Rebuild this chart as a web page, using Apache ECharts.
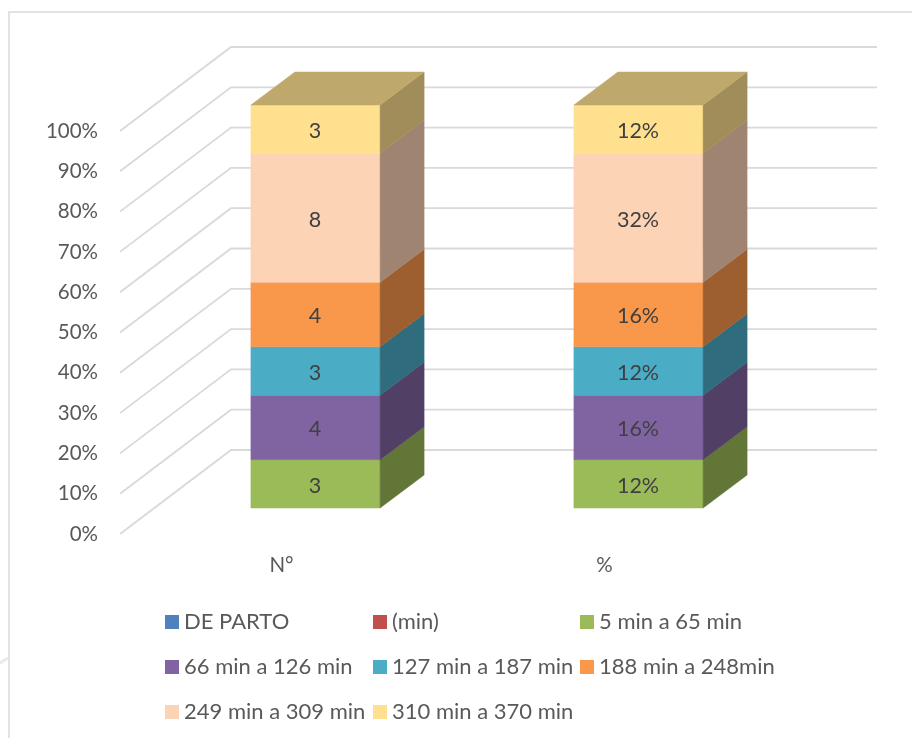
<!DOCTYPE html>
<html>
<head>
<meta charset="utf-8">
<title>Tiempo de parto</title>
<script src="https://cdn.jsdelivr.net/npm/echarts@6/dist/echarts.min.js"></script>
<style>
  html, body { margin: 0; padding: 0; background: #fff; }
  #chart { width: 912px; height: 738px; }
</style>
</head>
<body>
<div id="chart"></div>
<script>
// Column categories and percent axis ticks
const categories = ['N°', '%'];
const percentTicks = [0, 10, 20, 30, 40, 50, 60, 70, 80, 90, 100];

// Series names, bottom of the stack first
const seriesNames = ['DE PARTO', '(min)', '5 min a 65 min', '66 min a 126 min',
  '127 min a 187 min', '188 min a 248min', '249 min a 309 min', '310 min a 370 min'];

// Values per series: [count, percentage]
const deParto = [0, 0];
const minutos = [0, 0];
const min5a65 = [3, 12];
const min66a126 = [4, 16];
const min127a187 = [3, 12];
const min188a248 = [4, 16];
const min249a309 = [8, 32];
const min310a370 = [3, 12];
const seriesValues = [deParto, minutos, min5a65, min66a126, min127a187, min188a248, min249a309, min310a370];

const seriesColors = ['#4F81BD', '#C0504D', '#9BBB59', '#8064A2', '#4BACC6', '#F9974A', '#FCD3B4', '#FFE08F'];

// Pseudo-3D projection: offsets of the bar's front plane, its depth and the back wall
const BAR_FRONT = { x: 34, y: -26 };
const BAR_DEPTH = { x: 44, y: -33 };
const WALL = { x: 111, y: -84 };
const BAR_WIDTH_RATIO = 0.4;
const FONT = 'Lato, Carlito, "Open Sans", sans-serif';
const AXIS_FONT_SIZE = 20.5;
const VALUE_FONT_SIZE = 21.5;
const LEGEND_FONT_SIZE = 22;

const columnTotals = categories.map((_, c) => seriesValues.reduce((sum, s) => sum + s[c], 0));

function shade(hex, k) {
  const n = parseInt(hex.slice(1), 16);
  const ch = [n >> 16, (n >> 8) & 255, n & 255].map(v => Math.round(v * k));
  return `rgb(${ch[0]},${ch[1]},${ch[2]})`;
}

function solid(points, fill) {
  return {
    type: 'polygon',
    shape: { points },
    style: { fill, stroke: fill, lineWidth: 0.5 }
  };
}

// Draws one stacked segment: front face, side face, and the lid for the top series
function renderSegment(params, api) {
  const cat = api.value(0);
  const from = api.value(1);
  const to = api.value(2);
  const raw = api.value(3);
  if (to <= from) return { type: 'group', children: [] };

  const color = seriesColors[params.seriesIndex - 1];
  const width = api.size([1, 0])[0] * BAR_WIDTH_RATIO;
  const bottom = api.coord([cat, from]);
  const top = api.coord([cat, to]);
  const xl = bottom[0] + BAR_FRONT.x - width / 2;
  const xr = xl + width;
  const yb = bottom[1] + BAR_FRONT.y;
  const yt = top[1] + BAR_FRONT.y;

  const children = [
    solid([[xl, yb], [xr, yb], [xr, yt], [xl, yt]], color),
    solid([[xr, yb], [xr + BAR_DEPTH.x, yb + BAR_DEPTH.y], [xr + BAR_DEPTH.x, yt + BAR_DEPTH.y], [xr, yt]], shade(color, 0.63))
  ];
  if (params.seriesIndex === seriesNames.length) {
    children.push(solid([[xl, yt], [xr, yt], [xr + BAR_DEPTH.x, yt + BAR_DEPTH.y], [xl + BAR_DEPTH.x, yt + BAR_DEPTH.y]], shade(color, 0.75)));
  }
  children.push({
    type: 'text',
    style: {
      text: cat === 0 ? String(raw) : raw + '%',
      x: (xl + xr) / 2 - 0.5,
      y: (yb + yt) / 2 + 2,
      align: 'center',
      verticalAlign: 'middle',
      fill: '#404040',
      font: `${VALUE_FONT_SIZE}px ${FONT}`
    }
  });
  return { type: 'group', children };
}

// Draws one gridline: side wall diagonal, then back wall horizontal
function renderGridline(params, api) {
  const v = api.value(0);
  const start = api.coord([0, v]);
  const band = api.size([1, 0])[0];
  const x0 = start[0] - band / 2;
  const y0 = start[1];
  const x1 = x0 + WALL.x;
  const y1 = y0 + WALL.y;
  return {
    type: 'polyline',
    shape: { points: [[x0, y0], [x1, y1], [x1 + band * categories.length, y1]] },
    style: { fill: 'none', stroke: '#D9D9D9', lineWidth: 1.8 }
  };
}

const gridSeries = {
  type: 'custom',
  name: 'grid',
  silent: true,
  renderItem: renderGridline,
  data: percentTicks.map(t => [t]),
  encode: { y: 0 }
};

const stackSeries = seriesNames.map((name, s) => ({
  type: 'custom',
  name,
  itemStyle: { color: seriesColors[s] },
  renderItem: renderSegment,
  encode: { x: 0, y: [1, 2] },
  data: categories.map((_, c) => {
    const below = seriesValues.slice(0, s).reduce((sum, arr) => sum + arr[c], 0);
    const value = seriesValues[s][c];
    return [c, below / columnTotals[c] * 100, (below + value) / columnTotals[c] * 100, value];
  })
}));

function legendColumn(left, data) {
  return {
    orient: 'vertical',
    left,
    top: 606,
    data,
    icon: 'rect',
    itemWidth: 14,
    itemHeight: 14,
    itemGap: 23,
    selectedMode: false,
    textStyle: { color: '#595959', fontFamily: FONT, fontSize: LEGEND_FONT_SIZE }
  };
}

const chart = echarts.init(document.getElementById('chart'));
chart.setOption({
  animation: false,
  backgroundColor: '#fff',
  grid: { left: 120, top: 131, width: 646, height: 403 },
  xAxis: {
    type: 'category',
    data: categories,
    axisLine: { show: false },
    axisTick: { show: false },
    splitLine: { show: false },
    axisLabel: { color: '#595959', fontFamily: FONT, fontSize: AXIS_FONT_SIZE, margin: 21 }
  },
  yAxis: {
    type: 'value',
    min: 0,
    max: 100,
    interval: 10,
    axisLine: { show: false },
    axisTick: { show: false },
    splitLine: { show: false },
    axisLabel: { formatter: '{value}%', color: '#595959', fontFamily: FONT, fontSize: AXIS_FONT_SIZE, margin: 22, padding: [4, 0, 0, 0] }
  },
  legend: [
    legendColumn(160, [seriesNames[0], seriesNames[3], seriesNames[6]]),
    legendColumn(368, [seriesNames[1], seriesNames[4], seriesNames[7]]),
    legendColumn(575, [seriesNames[2], seriesNames[5]])
  ],
  graphic: [{
    type: 'rect',
    silent: true,
    shape: { x: 9, y: 12, width: 1000, height: 1000 },
    style: { fill: 'none', stroke: '#D9D9D9', lineWidth: 1.5 }
  }, {
    type: 'line',
    silent: true,
    shape: { x1: 0, y1: 663, x2: 8, y2: 658 },
    style: { stroke: '#EAEAEA', lineWidth: 3 }
  }],
  series: [gridSeries].concat(stackSeries)
});
</script>
</body>
</html>
